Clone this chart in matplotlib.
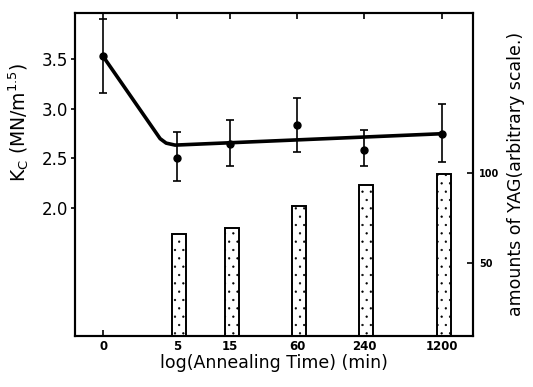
import matplotlib.pyplot as plt
import numpy as np

# annealing times (min); 0 is placed just left of 5 on the log axis
time_labels = ["0", "5", "15", "60", "240", "1200"]
times = [0, 5, 15, 60, 240, 1200]
kc = [3.53, 2.50, 2.65, 2.84, 2.59, 2.75]
kc_hi = [3.91, 2.77, 2.89, 3.11, 2.79, 3.05]
kc_lo = [3.16, 2.27, 2.42, 2.57, 2.42, 2.46]

# hand-drawn trend line (knots)
trend_x = [0.034, 0.546, 0.60, 0.68, 3.079]
trend_y = [3.53, 2.70, 2.655, 2.635, 2.75]

# YAG amounts (arbitrary scale), no bar at time 0
yag_times = [5, 15, 60, 240, 1200]
yag = [66, 69.5, 81.5, 93, 99.5]

ZERO_POS = 0.034


def xpos(t):
    t = np.asarray(t, dtype=float)
    return np.where(t > 0, np.log10(np.where(t > 0, t, 1.0)), ZERO_POS)


plt.rcParams["font.family"] = "DejaVu Sans"
plt.rcParams["hatch.linewidth"] = 0.4

fig = plt.figure(figsize=(5.33, 3.87), dpi=100)
ax = fig.add_axes([0.141, 0.132, 0.747, 0.835])
ax2 = ax.twinx()

x = xpos(times)
kc_arr = np.array(kc)
yerr = [kc_arr - np.array(kc_lo), np.array(kc_hi) - kc_arr]
ax.plot(trend_x, trend_y, color="black", lw=2.6, solid_capstyle="round", zorder=3)
ax.errorbar(x, kc, yerr=yerr, fmt="o", color="black", ms=5, elinewidth=1.2,
            capsize=3, capthick=1.2, zorder=4)

ax.set_xlim(-0.217, 3.358)
ax.set_ylim(0.71, 3.97)
ax.set_yticks([2.0, 2.5, 3.0, 3.5])
ax.set_yticklabels(["2.0", "2.5", "3.0", "3.5"], fontsize=12)
ax.set_xticks(x)
ax.set_xticklabels(time_labels, fontsize=8.5, fontweight="bold")
ax.tick_params(axis="x", direction="in", top=True, length=4, width=1.2, pad=3)
ax.tick_params(axis="y", direction="out", length=3, width=1.2, pad=2)
ax.set_xlabel("log(Annealing Time) (min)", fontsize=12.5, labelpad=1)
ax.set_ylabel(r"K$_\mathrm{C}$ (MN/m$^{1.5}$)", fontsize=13.5)
ax.yaxis.set_label_coords(-0.11, 0.66)
for s in ax.spines.values():
    s.set_linewidth(1.5)

bx = xpos(yag_times) + 0.015
ax2.bar(bx, np.array(yag) - 9.4, bottom=9.4, width=0.13, facecolor="white",
        edgecolor="black", linewidth=1.4, hatch="..", zorder=2)
ax2.set_ylim(9.4, 189)
ax2.set_yticks([50, 100])
ax2.set_yticklabels(["50", "100"], fontsize=7, fontweight="bold")
ax2.tick_params(axis="y", direction="in", length=4, width=1.2, pad=4)
ax2.set_ylabel("amounts of YAG(arbitrary scale.)", fontsize=12.5, labelpad=6)
for s in ax2.spines.values():
    s.set_linewidth(1.5)

fig.savefig("out.png", dpi=100)
